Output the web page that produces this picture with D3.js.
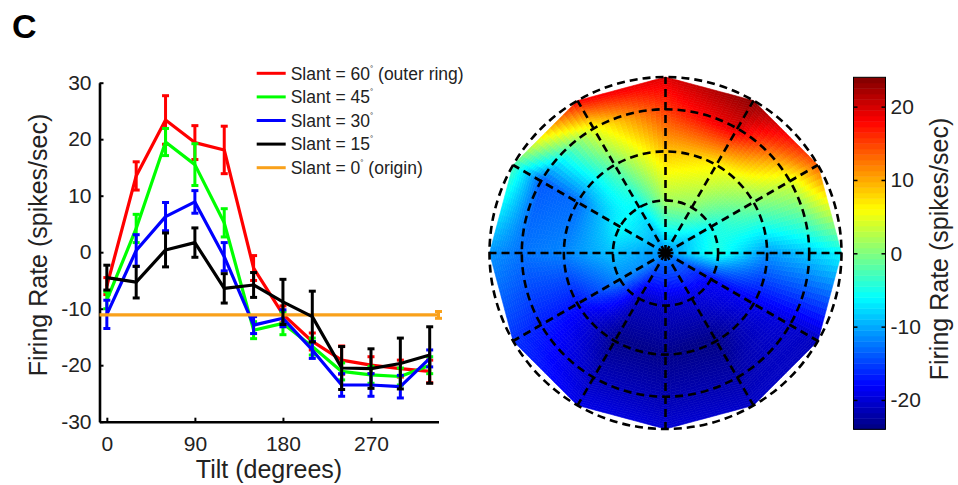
<!DOCTYPE html>
<html>
<head>
<meta charset="utf-8">
<script src="https://cdnjs.cloudflare.com/ajax/libs/d3/7.8.5/d3.min.js"></script>
<style>
    body { margin: 0; background: #fff; }
    svg { font-family: "Liberation Sans", Arial, Helvetica, sans-serif; }
</style>
</head>
<body>
<div id="figure"></div>
<script>
// tilt angles of the stimuli (degrees)
var tilts = [0, 30, 60, 90, 120, 150, 180, 210, 240, 270, 300, 330];

// mean firing rate (spikes/sec) and error for every slant ring
var slant60 = [-6, 13.5, 23.4, 19.4, 18.1, -2.8, -11, -15.8, -19.1, -20, -20.6, -21.1];
var err60   = [1.5, 2.5, 4.3, 3, 4.2, 2.2, 1.5, 1.5, 2.5, 1.5, 1.5, 2];
var slant45 = [-8.5, 4.2, 19.5, 15.5, 5.2, -13.8, -12.6, -16.7, -21.1, -21.7, -22, -20];
var err45   = [1.5, 2.5, 2.4, 3.7, 2.5, 1.5, 2, 1.5, 1.5, 1.5, 1.5, 1.5];
var slant30 = [-11, 0.3, 6.3, 8.9, -0.8, -12.9, -11.7, -17.3, -23.5, -23.5, -23.8, -18.8];
var err30   = [2.5, 2.8, 2.5, 2, 2.5, 1.5, 1.5, 1.5, 2, 2, 2, 1.5];
var slant15 = [-4.5, -5.3, 0.4, 1.7, -6.4, -5.8, -8.8, -11.4, -20.5, -20.6, -19.7, -18.2];
var err15   = [2.2, 2.8, 3, 2.6, 2.6, 2.2, 4, 4.5, 3.8, 3.5, 4.5, 5];
var slant0  = -11.1;   // origin, same for every tilt
var err0    = 0.6;

var slantLevels = [0, 15, 30, 45, 60];
var legendLabels = ["Slant = 60", "Slant = 45", "Slant = 30", "Slant = 15", "Slant = 0"];
var legendNotes = [" (outer ring)", "", "", "", " (origin)"];
var seriesColors = ["#ff0000", "#00ff00", "#0000ff", "#000000", "#f9a11b"];

var yTicks = [-30, -20, -10, 0, 10, 20, 30];
var xTicks = [0, 90, 180, 270];
var cbarTicks = [-20, -10, 0, 10, 20];
var colorLimits = [-24, 24];

var width = 958, height = 485;
// plain hyphen minus like the original figure
var plainFormat = function (d) { return String(d); };

var svg = d3.select("#figure").append("svg")
    .attr("width", width)
    .attr("height", height);

// panel letter
svg.append("text")
    .attr("x", 12)
    .attr("y", 38)
    .attr("font-size", 34)
    .attr("font-weight", "bold")
    .text("C");

/**
 * Tuning curves (left panel)
 */
var xScale = d3.scaleLinear().domain([-7.5, 339]).range([99.5, 438.5]);
var yScale = d3.scaleLinear().domain([-30, 30]).range([421.7, 82.7]);

var yAxis = svg.append("g")
    .attr("transform", "translate(" + xScale.range()[0] + ",0)")
    .call(d3.axisLeft(yScale).tickValues(yTicks).tickFormat(plainFormat)
        .tickSizeInner(-4).tickSizeOuter(0).tickPadding(8));

var xAxis = svg.append("g")
    .attr("transform", "translate(0," + yScale.range()[0] + ")")
    .call(d3.axisBottom(xScale).tickValues(xTicks).tickFormat(plainFormat)
        .tickSizeInner(-4).tickSizeOuter(0).tickPadding(14));

[xAxis, yAxis].forEach(function (ax) {
    ax.select(".domain").attr("stroke", "#000").attr("stroke-width", 2.6);
    ax.selectAll(".tick line").attr("stroke", "#000").attr("stroke-width", 2);
    ax.selectAll(".tick text").attr("font-size", 21).attr("fill", "#222")
        .attr("font-family", "Liberation Sans, Arial, sans-serif");
});

svg.append("text")
    .attr("transform", "translate(46.5,245) rotate(-90)")
    .attr("text-anchor", "middle")
    .attr("font-size", 25)
    .attr("fill", "#222")
    .text("Firing Rate (spikes/sec)");

svg.append("text")
    .attr("x", 269)
    .attr("y", 478)
    .attr("text-anchor", "middle")
    .attr("font-size", 25)
    .attr("fill", "#222")
    .text("Tilt (degrees)");

var series = [
    {values: slant60, errors: err60, color: seriesColors[0]},
    {values: slant45, errors: err45, color: seriesColors[1]},
    {values: slant30, errors: err30, color: seriesColors[2]}
];
var blackSeries = {values: slant15, errors: err15, color: seriesColors[3]};

var line = d3.line()
    .x(function (d) { return xScale(d.tilt); })
    .y(function (d) { return yScale(d.value); });

function drawSeries(s) {
    var pts = tilts.map(function (t, i) {
        return {tilt: t, value: s.values[i], err: s.errors[i]};
    });
    var g = svg.append("g");
    g.append("path")
        .datum(pts)
        .attr("d", line)
        .attr("fill", "none")
        .attr("stroke", s.color)
        .attr("stroke-width", 3.2)
        .attr("stroke-linejoin", "round");
    drawErrorBars(g, pts, s.color);
}

function drawErrorBars(g, pts, color) {
    var cap = 3.5;
    var bars = g.selectAll(".err").data(pts).enter().append("g").attr("class", "err");
    bars.append("line")
        .attr("x1", function (d) { return xScale(d.tilt); })
        .attr("x2", function (d) { return xScale(d.tilt); })
        .attr("y1", function (d) { return yScale(d.value - d.err); })
        .attr("y2", function (d) { return yScale(d.value + d.err); });
    bars.append("line")
        .attr("x1", function (d) { return xScale(d.tilt) - cap; })
        .attr("x2", function (d) { return xScale(d.tilt) + cap; })
        .attr("y1", function (d) { return yScale(d.value - d.err); })
        .attr("y2", function (d) { return yScale(d.value - d.err); });
    bars.append("line")
        .attr("x1", function (d) { return xScale(d.tilt) - cap; })
        .attr("x2", function (d) { return xScale(d.tilt) + cap; })
        .attr("y1", function (d) { return yScale(d.value + d.err); })
        .attr("y2", function (d) { return yScale(d.value + d.err); });
    bars.selectAll("line").attr("stroke", color).attr("stroke-width", 3);
}

series.forEach(drawSeries);

// origin (slant 0) spans the whole tilt axis
var originPts = xScale.domain().map(function (t) { return {tilt: t, value: slant0, err: err0}; });
var og = svg.append("g");
og.append("path")
    .datum(originPts)
    .attr("d", line)
    .attr("fill", "none")
    .attr("stroke", seriesColors[4])
    .attr("stroke-width", 3.2);
drawErrorBars(og, originPts.slice(1), seriesColors[4]);

drawSeries(blackSeries);

// legend
var legend = svg.append("g").attr("transform", "translate(256.7,73.3)");
var rows = legend.selectAll("g").data(legendLabels).enter().append("g")
    .attr("transform", function (d, i) { return "translate(0," + (i * 23.6) + ")"; });
rows.append("line")
    .attr("x1", 0).attr("x2", 29).attr("y1", 0).attr("y2", 0)
    .attr("stroke", function (d, i) { return seriesColors[i]; })
    .attr("stroke-width", 3);
var lt = rows.append("text")
    .attr("x", 34)
    .attr("y", 6.2)
    .attr("font-size", 17.5)
    .attr("fill", "#222");
lt.append("tspan").text(function (d) { return d; });
lt.append("tspan").attr("dy", -9).attr("font-size", 8).text("°");
lt.append("tspan").attr("dy", 9).text(function (d, i) { return legendNotes[i]; });

/**
 * Polar map of firing rate (middle panel)
 */
var cx = 665.5, cy = 253, outerR = 176;
var rScale = d3.scaleLinear().domain([0, Math.sin(Math.PI / 3)]).range([0, outerR]);
function radius(slant) { return rScale(Math.sin(slant * Math.PI / 180)); }

function jet(t) {
    function c(v) { return Math.max(0, Math.min(1, v)); }
    var r = c(1.5 - Math.abs(4 * t - 3)),
        g = c(1.5 - Math.abs(4 * t - 2)),
        b = c(1.5 - Math.abs(4 * t - 1));
    return d3.rgb(r * 255, g * 255, b * 255).toString();
}
var colorScale = d3.scaleSequential(jet).domain(colorLimits);

// grid of values: rows = slant level, cols = tilt (wrapped to 360)
var ringValues = [tilts.map(function () { return slant0; }), slant15, slant30, slant45, slant60];
function gridValue(j, i) { return ringValues[j][i % tilts.length]; }
function gridPoint(j, i) {
    var a = (i * 30) * Math.PI / 180, r = radius(slantLevels[j]);
    return [cx + r * Math.cos(a), cy - r * Math.sin(a)];
}

var cells = [];
var N = 14;
for (var i = 0; i < tilts.length; i++) {
    for (var j = 0; j < slantLevels.length - 1; j++) {
        var p00 = gridPoint(j, i), p10 = gridPoint(j, i + 1),
            p01 = gridPoint(j + 1, i), p11 = gridPoint(j + 1, i + 1);
        var v00 = gridValue(j, i), v10 = gridValue(j, i + 1),
            v01 = gridValue(j + 1, i), v11 = gridValue(j + 1, i + 1);
        var bil = function (a, b, c, d, u, v) {
            return (1 - u) * (1 - v) * a + u * (1 - v) * b + (1 - u) * v * c + u * v * d;
        };
        var pos = function (u, v) {
            return [bil(p00[0], p10[0], p01[0], p11[0], u, v), bil(p00[1], p10[1], p01[1], p11[1], u, v)];
        };
        for (var a = 0; a < N; a++) {
            for (var b = 0; b < N; b++) {
                var u0 = a / N, u1 = (a + 1) / N, w0 = b / N, w1 = (b + 1) / N;
                cells.push({
                    pts: [pos(u0, w0), pos(u1, w0), pos(u1, w1), pos(u0, w1)],
                    value: bil(v00, v10, v01, v11, (u0 + u1) / 2, (w0 + w1) / 2)
                });
            }
        }
    }
}

svg.append("g").selectAll("path").data(cells).enter().append("path")
    .attr("d", function (d) { return "M" + d.pts.join("L") + "Z"; })
    .attr("fill", function (d) { return colorScale(d.value); })
    .attr("stroke", function (d) { return colorScale(d.value); })
    .attr("stroke-width", 0.6);

// dashed grid: rings and spokes
var grid = svg.append("g")
    .attr("fill", "none")
    .attr("stroke", "#000")
    .attr("stroke-width", 2.6)
    .attr("stroke-dasharray", "8,5");
grid.selectAll("circle").data(slantLevels.slice(1)).enter().append("circle")
    .attr("cx", cx).attr("cy", cy)
    .attr("r", function (d) { return radius(d); });
grid.selectAll("line").data(tilts).enter().append("line")
    .attr("x1", cx).attr("y1", cy)
    .attr("x2", function (d) { return cx + outerR * Math.cos(d * Math.PI / 180); })
    .attr("y2", function (d) { return cy - outerR * Math.sin(d * Math.PI / 180); });

/**
 * Colour bar (right)
 */
var cbX = 853.5, cbW = 32;
var cbScale = d3.scaleLinear().domain(colorLimits).range([429.3, 77.3]);
var nBands = 64;
var bands = d3.range(nBands).map(function (k) {
    var step = (colorLimits[1] - colorLimits[0]) / nBands;
    return {lo: colorLimits[0] + k * step, hi: colorLimits[0] + (k + 1) * step};
});
svg.append("g").selectAll("rect").data(bands).enter().append("rect")
    .attr("x", cbX)
    .attr("width", cbW)
    .attr("y", function (d) { return cbScale(d.hi); })
    .attr("height", function (d) { return cbScale(d.lo) - cbScale(d.hi) + 0.5; })
    .attr("fill", function (d) { return colorScale((d.lo + d.hi) / 2); });
svg.append("rect")
    .attr("x", cbX).attr("y", cbScale.range()[1])
    .attr("width", cbW).attr("height", cbScale.range()[0] - cbScale.range()[1])
    .attr("fill", "none").attr("stroke", "#000").attr("stroke-width", 1);

var cbAxis = svg.append("g")
    .attr("transform", "translate(" + (cbX + cbW) + ",0)")
    .call(d3.axisRight(cbScale).tickValues(cbarTicks).tickFormat(plainFormat)
        .tickSizeInner(-4).tickSizeOuter(0).tickPadding(5));
cbAxis.select(".domain").remove();
cbAxis.selectAll(".tick line").attr("stroke", "#000").attr("stroke-width", 1.5);
cbAxis.selectAll(".tick text").attr("font-size", 21).attr("fill", "#222")
    .attr("font-family", "Liberation Sans, Arial, sans-serif");
var cbLeft = svg.append("g")
    .attr("transform", "translate(" + cbX + ",0)")
    .call(d3.axisLeft(cbScale).tickValues(cbarTicks).tickSizeInner(-4).tickSizeOuter(0).tickFormat(""));
cbLeft.select(".domain").remove();
cbLeft.selectAll(".tick line").attr("stroke", "#000").attr("stroke-width", 1.5);

svg.append("text")
    .attr("transform", "translate(948,249) rotate(-90)")
    .attr("text-anchor", "middle")
    .attr("font-size", 25)
    .attr("fill", "#222")
    .text("Firing Rate (spikes/sec)");
</script>
</body>
</html>
